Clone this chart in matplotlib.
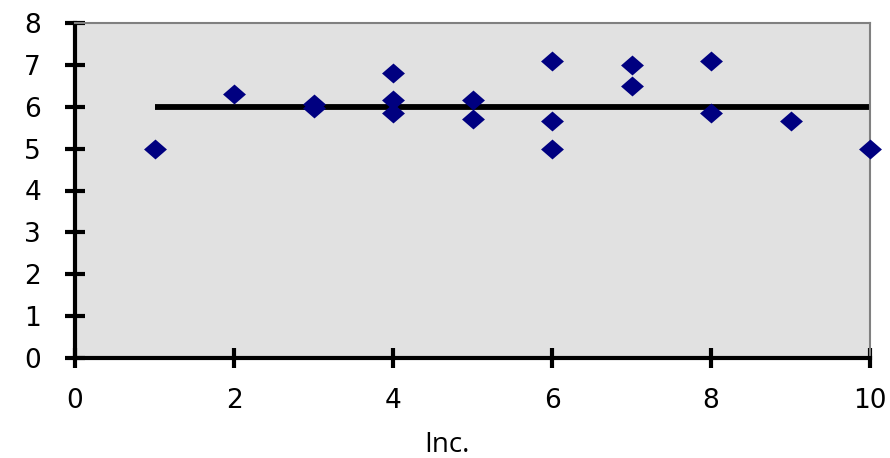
import matplotlib
matplotlib.use("Agg")
import matplotlib.pyplot as plt
from matplotlib.path import Path

# Observations: x = increment level, y = score
inc_values = [1, 2, 3, 3, 4, 4, 4, 5, 5, 6, 6, 6, 7, 7, 8, 8, 9, 10]
scores = [5.0, 6.3, 6.07, 5.96, 6.8, 6.15, 5.85, 6.15, 5.7,
          7.1, 5.65, 5.0, 7.0, 6.5, 7.1, 5.85, 5.65, 5.0]

# Reference level drawn across the observed range
ref_x = [1, 10]
ref_y = [6, 6]

x_ticks = [0, 2, 4, 6, 8, 10]
y_ticks = [0, 1, 2, 3, 4, 5, 6, 7, 8]

# Slightly wide diamond marker
diamond = Path([(-1.15, 0), (0, 1), (1.15, 0), (0, -1), (-1.15, 0)],
               [Path.MOVETO, Path.LINETO, Path.LINETO, Path.LINETO, Path.CLOSEPOLY])

fig = plt.figure(figsize=(8.9, 4.58), dpi=100)
ax = fig.add_axes([75 / 890, 1 - 358 / 458, 795 / 890, 335 / 458])
ax.set_facecolor("#E1E1E1")

ax.plot(ref_x, ref_y, color="black", linewidth=4.2, solid_capstyle="butt", zorder=2)
ax.plot(inc_values, scores, linestyle="none", marker=diamond, markersize=16.5,
        color="#000080", markeredgewidth=0, zorder=3, clip_on=False)

ax.set_xlim(0, 10)
ax.set_ylim(0, 8)
ax.set_xticks(x_ticks)
ax.set_yticks(y_ticks)

for side in ("left", "bottom"):
    ax.spines[side].set_linewidth(3)
    ax.spines[side].set_color("black")
for side in ("top", "right"):
    ax.spines[side].set_linewidth(1.5)
    ax.spines[side].set_color("#808080")

ax.tick_params(axis="both", direction="inout", length=15, width=3,
               color="black", labelsize=19, labelcolor="black")
ax.tick_params(axis="y", pad=17)
ax.tick_params(axis="x", pad=14)

fig.text(447 / 890, 1 - 445 / 458, "Inc.", ha="center", va="center",
         fontsize=20, family="Open Sans")

fig.savefig("out.png", dpi=100)
